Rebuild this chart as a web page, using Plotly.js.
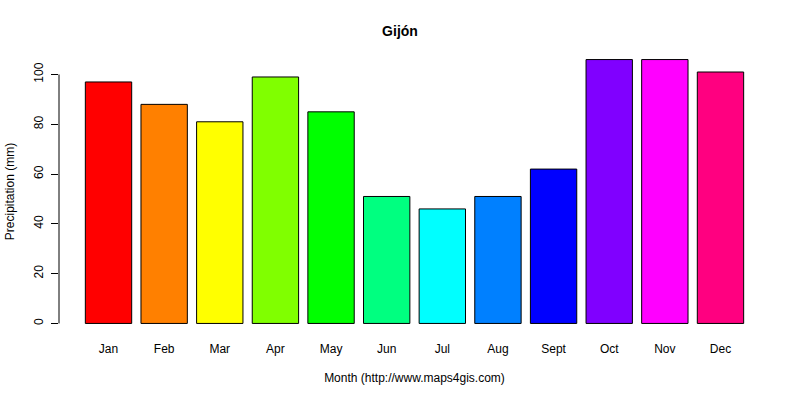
<!DOCTYPE html>
<html>
<head>
<meta charset="utf-8">
<script src="https://cdn.plot.ly/plotly-3.0.1.min.js"></script>
<style>
  html, body { margin: 0; padding: 0; background: #fff; }
  #chart { width: 800px; height: 400px; }
</style>
</head>
<body>
<div id="chart"></div>
<script>
// monthly precipitation, Gijón (mm)
let months = ['Jan', 'Feb', 'Mar', 'Apr', 'May', 'Jun', 'Jul', 'Aug', 'Sept', 'Oct', 'Nov', 'Dec']
let precip = [97, 88, 81, 99, 85, 51, 46, 51, 62, 106, 106, 101]
let barColors = ['#FF0000', '#FF8000', '#FFFF00', '#80FF00', '#00FF00', '#00FF80',
                 '#00FFFF', '#0080FF', '#0000FF', '#8000FF', '#FF00FF', '#FF0080']
let yTicks = [0, 20, 40, 60, 80, 100]

let font = 'Liberation Sans, Arial, sans-serif'

var trace1 = {
  x: months,
  y: precip,
  type: 'bar',
  marker: { color: barColors, line: { color: '#000', width: 1 } },
  hoverinfo: 'x+y'
};

var layout = {
  width: 800,
  height: 400,
  margin: { l: 59, r: 30, t: 49, b: 66 },
  paper_bgcolor: '#fff',
  plot_bgcolor: '#fff',
  showlegend: false,
  bargap: 0.1667,
  font: { family: font, size: 12, color: '#000' },
  title: {
    text: '<b>Gijón</b>',
    font: { family: font, size: 14, color: '#000' },
    x: 0.5, xanchor: 'center',
    yref: 'container', y: 0.922, yanchor: 'middle'
  },
  xaxis: {
    type: 'category',
    range: [-0.89, 11.89],
    showline: false,
    showgrid: false,
    zeroline: false,
    ticks: '',
    ticklabelstandoff: 6,
    tickfont: { family: font, size: 12, color: '#000' },
    title: { text: 'Month (http://www.maps4gis.com)', standoff: 18,
             font: { family: font, size: 12, color: '#000' } }
  },
  yaxis: {
    range: [-4.24, 110.24],
    tickvals: yTicks,
    ticks: 'outside',
    ticklen: 7,
    tickcolor: '#000',
    tickangle: -90,
    ticklabelstandoff: 3,
    showline: false,
    showgrid: false,
    zeroline: false,
    tickfont: { family: font, size: 12, color: '#000' },
    title: { text: 'Precipitation (mm)', standoff: 15,
             font: { family: font, size: 12, color: '#000' } }
  },
  shapes: [{
    type: 'line', xref: 'paper', yref: 'y',
    x0: 0, x1: 0, y0: yTicks[0], y1: yTicks[yTicks.length - 1],
    line: { color: '#000', width: 1 }
  }]
};

Plotly.newPlot('chart', [trace1], layout, { displayModeBar: false, staticPlot: true });
</script>
</body>
</html>
